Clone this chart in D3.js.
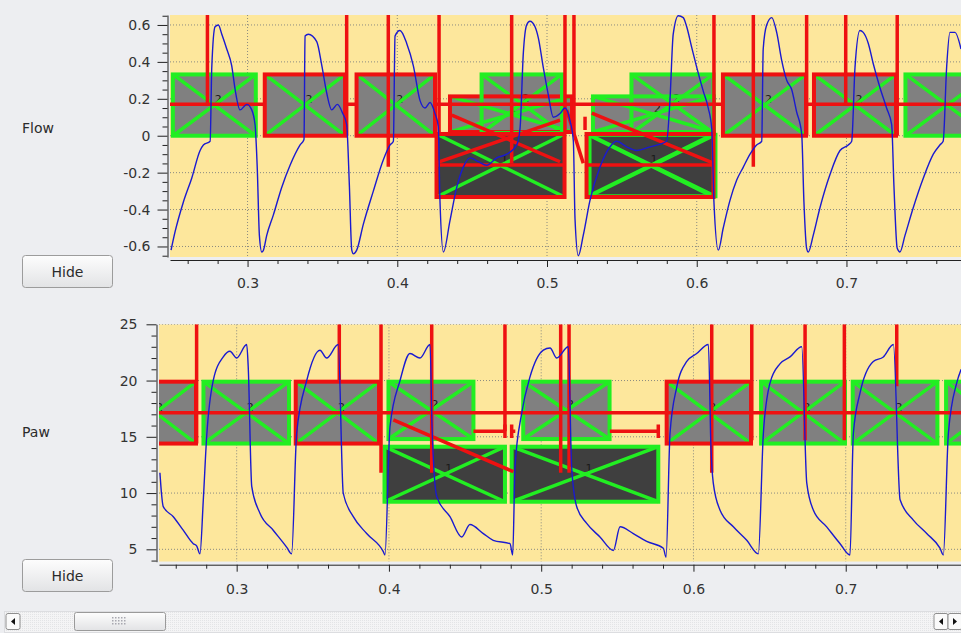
<!DOCTYPE html>
<html>
<head>
<meta charset="utf-8">
<script src="https://cdn.jsdelivr.net/npm/d3@7"></script>
<style>
	body { margin: 0; background: #edeef1; overflow: hidden; }
	svg { display: block; font-family: 'DejaVu Sans', sans-serif; }
</style>
</head>
<body>
<script>
// time axis (s) shared by both plots
const timeTicks = [0.3, 0.4, 0.5, 0.6, 0.7]
const timeTickLabels = ['0.3', '0.4', '0.5', '0.6', '0.7']
const flowTicks = [-0.6, -0.4, -0.2, 0, 0.2, 0.4, 0.6]
const flowTickLabels = ['-0.6', '-0.4', '-0.2', '0', '0.2', '0.4', '0.6']
const pawTicks = [5, 10, 15, 20, 25]
const pawTickLabels = ['5', '10', '15', '20', '25']

// Flow trace
const flowTime = [
	0.2489, 0.2516, 0.2571, 0.2627, 0.2683, 0.2705, 0.2750, 0.2761, 0.2783, 0.2805, 0.2828, 0.2861, 0.2894, 0.2917, 0.2950, 0.2995, 0.3028, 0.3050, 0.3065, 0.3079, 0.3095,
	0.3106, 0.3128, 0.3172, 0.3228, 0.3284, 0.3351, 0.3377, 0.3384, 0.3406, 0.3462, 0.3496, 0.3529, 0.3562, 0.3600, 0.3636, 0.3662, 0.3680, 0.3696, 0.3707,
	0.3729, 0.3773, 0.3840, 0.3907, 0.3952, 0.3974, 0.3985, 0.4018, 0.4063, 0.4107, 0.4152, 0.4185, 0.4219, 0.4252, 0.4274, 0.4285, 0.4308,
	0.4352, 0.4397, 0.4441, 0.4486, 0.4541, 0.4597, 0.4664, 0.4731, 0.4798, 0.4820, 0.4842, 0.4864, 0.4886, 0.4920, 0.4942, 0.4975, 0.5009, 0.5042, 0.5087, 0.5120, 0.5154, 0.5176, 0.5187, 0.5209,
	0.5242, 0.5287, 0.5354, 0.5421, 0.5465, 0.5532, 0.5599, 0.5688, 0.5799, 0.5821, 0.5843, 0.5877, 0.5910, 0.5933, 0.5966, 0.6000, 0.6044, 0.6077, 0.6100, 0.6115, 0.6144,
	0.6177, 0.6222, 0.6267, 0.6311, 0.6356, 0.6400, 0.6434, 0.6444, 0.6467, 0.6501, 0.6534, 0.6567, 0.6601, 0.6634, 0.6667, 0.6701, 0.6716, 0.6734, 0.6745,
	0.6778, 0.6823, 0.6890, 0.6957, 0.7012, 0.7035, 0.7057, 0.7090, 0.7112, 0.7146, 0.7179, 0.7224, 0.7268, 0.7302, 0.7317, 0.7339, 0.7357,
	0.7391, 0.7446, 0.7513, 0.7580, 0.7624, 0.7646, 0.7669, 0.7691, 0.7725, 0.7765
]
const flowValue = [
	-0.62, -0.52, -0.36, -0.23, -0.08, -0.05, -0.03, 0.37, 0.59, 0.60, 0.55, 0.47, 0.38, 0.25, 0.14, 0.17, 0.14, 0.06, -0.18, -0.54, -0.63,
	-0.62, -0.54, -0.43, -0.28, -0.16, -0.05, -0.02, 0.54, 0.55, 0.51, 0.38, 0.23, 0.14, 0.17, 0.12, 0.06, -0.27, -0.62, -0.64,
	-0.62, -0.48, -0.30, -0.13, -0.05, -0.03, 0.54, 0.57, 0.50, 0.38, 0.19, 0.15, 0.18, 0.12, 0.05, -0.35, -0.63,
	-0.46, -0.28, -0.17, -0.12, -0.14, -0.16, -0.12, -0.10, -0.05, 0.04, 0.45, 0.60, 0.62, 0.59, 0.53, 0.37, 0.22, 0.10, 0.12, 0.15, 0.08, -0.03, -0.45, -0.65,
	-0.54, -0.35, -0.17, -0.06, -0.03, -0.06, -0.08, -0.06, -0.03, 0.19, 0.55, 0.65, 0.64, 0.59, 0.48, 0.37, 0.24, 0.15, 0.04, -0.36, -0.62,
	-0.50, -0.35, -0.24, -0.17, -0.10, -0.05, -0.03, 0.47, 0.60, 0.64, 0.56, 0.41, 0.30, 0.25, 0.13, 0.01, -0.36, -0.61, -0.63,
	-0.54, -0.39, -0.21, -0.08, -0.05, -0.03, 0.37, 0.57, 0.56, 0.50, 0.39, 0.26, 0.15, 0.06, -0.27, -0.61, -0.63,
	-0.54, -0.39, -0.23, -0.10, -0.05, -0.03, 0.37, 0.56, 0.56, 0.47
]

// Paw trace
const pawTime = [
	0.2496, 0.2503, 0.2518, 0.2584, 0.2649, 0.2715, 0.2737, 0.2759, 0.2781, 0.2803, 0.2846, 0.2912, 0.2956, 0.3000, 0.3066, 0.3076, 0.3099, 0.3153, 0.3240, 0.3328, 0.3361,
	0.3394, 0.3460, 0.3547, 0.3591, 0.3667, 0.3700, 0.3766, 0.3854, 0.3963, 0.3974,
	0.4007, 0.4073, 0.4138, 0.4204, 0.4270, 0.4283, 0.4314, 0.4401, 0.4478, 0.4532, 0.4620, 0.4685, 0.4795, 0.4813,
	0.4828, 0.4872, 0.4926, 0.5014, 0.5058, 0.5102, 0.5178, 0.5200, 0.5233, 0.5299, 0.5386, 0.5474, 0.5518, 0.5605, 0.5693, 0.5802, 0.5820,
	0.5846, 0.5890, 0.5956, 0.6021, 0.6098, 0.6115, 0.6130, 0.6174, 0.6262, 0.6350, 0.6426,
	0.6459, 0.6503, 0.6569, 0.6634, 0.6711, 0.6744, 0.6787, 0.6875, 0.6963, 0.7028,
	0.7050, 0.7094, 0.7181, 0.7247, 0.7313, 0.7357, 0.7444, 0.7532, 0.7619, 0.7641,
	0.7674, 0.7729, 0.7758
]
const pawValue = [
	11.8, 10.5, 8.8, 7.9, 6.7, 5.5, 5.3, 4.6, 9.4, 15.0, 20.0, 22.1, 22.6, 22.0, 23.2, 21.2, 10.6, 8.2, 6.7, 5.2, 4.6,
	15.3, 20.0, 22.7, 22.0, 23.2, 10.0, 7.9, 6.4, 4.8, 4.5,
	15.9, 20.0, 22.4, 22.0, 23.2, 16.0, 9.7, 7.9, 6.1, 7.2, 6.4, 5.8, 5.5, 4.5,
	12.3, 17.1, 20.3, 22.7, 22.9, 22.0, 23.0, 12.3, 8.8, 7.3, 6.1, 4.9, 7.0, 6.4, 5.7, 5.1, 4.3,
	15.3, 19.4, 21.7, 22.4, 23.2, 14.0, 10.9, 8.5, 7.0, 5.8, 4.6,
	15.3, 19.8, 21.5, 22.1, 23.0, 10.9, 8.5, 7.0, 5.5, 4.5,
	15.3, 18.9, 21.7, 22.1, 23.2, 9.4, 7.6, 6.4, 5.1, 4.5,
	15.3, 19.8, 21.0
]

// annotation boxes: [t start, t end, low, high, edge, tag, show tag]
const flowBoxesBelow = [
	[0.2501, 0.3055, 0, 0.332, 'g', '2', true],
	[0.4352, 0.5167, 0.02, 0.213, 'r', '2', true],
	[0.4563, 0.5100, 0.015, 0.332, 'g', '2', true],
	[0.5307, 0.6115, 0.02, 0.213, 'g', '2', true],
	[0.5564, 0.6112, 0.015, 0.332, 'g', '2', true],
	[0.6783, 0.7331, 0, 0.332, 'r', '2', true],
	[0.7394, 0.7950, 0, 0.332, 'g', '2', false],
	[0.4262, 0.5117, -0.332, 0.0095, 'r', '1', true],
	[0.5284, 0.6125, -0.328, 0.005, 'g', '1', false],
	[0.5264, 0.6112, -0.332, 0.0095, 'r', '1', true]
]
const flowBoxesAbove = [
	[0.3115, 0.3651, 0, 0.332, 'r', '2', true],
	[0.3728, 0.4252, 0, 0.332, 'r', '2', true],
	[0.6175, 0.6730, 0, 0.332, 'r', '2', true]
]
const flowLevel = 0.17
// event markers: [t, lower end]
const flowMarks = [
	[0.2732, 0.17], [0.3662, 0.0], [0.3940, -0.168], [0.4279, 0.0], [0.4764, -0.15], [0.5120, 0.01],
	[0.5180, 0.01], [0.6115, 0.0], [0.6378, -0.168], [0.6734, 0.0], [0.6995, 0.17], [0.7339, 0.0]
]
// links: [t0, v0, t1, v1]
const flowLinks = [
	[0.4364, 0.112, 0.5087, -0.141],
	[0.4255, -0.148, 0.5087, 0.085],
	[0.4262, -0.158, 0.5117, -0.158],
	[0.5264, -0.158, 0.6112, -0.158],
	[0.5131, 0.139, 0.5242, -0.149],
	[0.5299, 0.122, 0.6111, -0.149],
	[0.5254, 0.103, 0.5254, 0.031]
]

const pawBoxesBelow = [
	[0.2200, 0.2733, 14.4, 19.9, 'r', '2', true],
	[0.2782, 0.3344, 14.4, 19.9, 'g', '2', true],
	[0.3388, 0.3935, 14.4, 19.9, 'r', '2', true],
	[0.3997, 0.4555, 14.8, 19.9, 'g', '2', true],
	[0.4882, 0.5449, 14.8, 19.9, 'g', '2', true],
	[0.5824, 0.6378, 14.4, 19.9, 'r', '2', true],
	[0.6444, 0.6995, 14.4, 19.9, 'g', '2', true],
	[0.7046, 0.7602, 14.4, 19.9, 'g', '2', true],
	[0.7659, 0.8200, 14.4, 19.9, 'g', '2', false],
	[0.3971, 0.4762, 9.23, 14.12, 'g', '1', true],
	[0.4806, 0.5769, 9.23, 14.12, 'g', '1', true]
]
const pawBoxesAbove = []
const pawLevel = 17.14
const pawMarks = [
	[0.2737, 14.4], [0.3674, 19.9], [0.3948, 11.8], [0.4281, 11.8], [0.4762, 15.5], [0.5128, 11.8],
	[0.5183, 11.8], [0.6120, 11.8], [0.6383, 14.7], [0.6733, 14.7], [0.6991, 14.7], [0.7335, 19.5]
]
const pawLinks = [
	[0.4029, 16.5, 0.4817, 11.9],
	[0.4555, 15.5, 0.4762, 15.5],
	[0.4762, 14.9, 0.4762, 16.1],
	[0.4806, 14.9, 0.4806, 16.1],
	[0.4806, 15.5, 0.4830, 15.5],
	[0.5451, 15.5, 0.5769, 15.5],
	[0.5769, 14.9, 0.5769, 16.1]
]

const width = 961
const height = 633
const red = '#ee1111'
const green = '#22ee22'

const svg = d3.select('body')
	.append('svg')
	.attr('width', width)
	.attr('height', height)

const defs = svg.append('defs')
const btnGrad = defs.append('linearGradient').attr('id', 'btn').attr('x1', 0).attr('y1', 0).attr('x2', 0).attr('y2', 1)
btnGrad.append('stop').attr('offset', 0).attr('stop-color', '#fdfdfd')
btnGrad.append('stop').attr('offset', 1).attr('stop-color', '#e2e3e5')
const track = defs.append('pattern').attr('id', 'track').attr('width', 2).attr('height', 2).attr('patternUnits', 'userSpaceOnUse')
track.append('rect').attr('width', 2).attr('height', 2).attr('fill', '#f4f4f5')
track.append('rect').attr('width', 1).attr('height', 1).attr('fill', '#e3e4e6')

function drawPlot(p) {
	const x = d3.scaleLinear().domain(p.xDomain).range([p.left, width])
	const y = d3.scaleLinear().domain(p.yDomain).range([p.bottom, p.top])

	defs.append('clipPath').attr('id', 'clip-' + p.name)
		.append('rect')
		.attr('x', p.left).attr('y', p.top)
		.attr('width', width - p.left).attr('height', p.bottom - p.top)

	const g = svg.append('g').attr('clip-path', `url(#clip-${p.name})`)

	g.append('rect')
		.attr('x', p.left).attr('y', p.top)
		.attr('width', width - p.left).attr('height', p.bottom - p.top)
		.attr('fill', '#fde79c')

	// grid
	g.selectAll('.gx').data(timeTicks).join('line')
		.attr('x1', d => x(d)).attr('x2', d => x(d))
		.attr('y1', p.top).attr('y2', p.bottom)
		.attr('stroke', '#8a8a80').attr('stroke-dasharray', '1,2')
	g.selectAll('.gy').data(p.ticks).join('line')
		.attr('x1', p.left).attr('x2', width)
		.attr('y1', d => y(d)).attr('y2', d => y(d))
		.attr('stroke', '#8a8a80').attr('stroke-dasharray', '1,2')

	const drawBoxes = (boxes) => {
		const layer = g.append('g')
		layer.selectAll('rect.fill').data(boxes).join('rect')
			.attr('x', d => x(d[0])).attr('y', d => y(d[3]))
			.attr('width', d => x(d[1]) - x(d[0])).attr('height', d => y(d[2]) - y(d[3]))
			.attr('fill', d => d[5] === '1' ? '#3f3f3f' : '#808080')
		layer.selectAll('text').data(boxes.filter(d => d[6])).join('text')
			.attr('x', d => (x(d[0]) + x(d[1])) / 2 + 4)
			.attr('y', d => (y(d[2]) + y(d[3])) / 2 - 2)
			.attr('font-size', 11)
			.attr('fill', '#1a1a1a')
			.attr('text-anchor', 'middle')
			.text(d => d[5])
		layer.selectAll('path').data(boxes).join('path')
			.attr('d', d => `M${x(d[0])},${y(d[3])}L${x(d[1])},${y(d[2])}M${x(d[0])},${y(d[2])}L${x(d[1])},${y(d[3])}`)
			.attr('stroke', green).attr('stroke-width', 3.5).attr('fill', 'none')
		layer.selectAll('rect.edge').data(boxes).join('rect')
			.attr('x', d => x(d[0])).attr('y', d => y(d[3]))
			.attr('width', d => x(d[1]) - x(d[0])).attr('height', d => y(d[2]) - y(d[3]))
			.attr('fill', 'none')
			.attr('stroke', d => d[4] === 'r' ? red : green)
			.attr('stroke-width', 4)
	}

	drawBoxes(p.boxesBelow)

	g.append('line')
		.attr('x1', p.left).attr('x2', width)
		.attr('y1', y(p.level)).attr('y2', y(p.level))
		.attr('stroke', red).attr('stroke-width', 3.5)

	drawBoxes(p.boxesAbove)

	g.selectAll('.mark').data(p.marks).join('line')
		.attr('x1', d => x(d[0])).attr('x2', d => x(d[0]))
		.attr('y1', p.top).attr('y2', d => y(d[1]))
		.attr('stroke', red).attr('stroke-width', 3.5)

	g.selectAll('.link').data(p.links).join('line')
		.attr('x1', d => x(d[0])).attr('y1', d => y(d[1]))
		.attr('x2', d => x(d[2])).attr('y2', d => y(d[3]))
		.attr('stroke', red).attr('stroke-width', 3.5)

	const line = d3.line()
		.x(d => x(d[0]))
		.y(d => y(d[1]))
		.curve(d3.curveMonotoneX)
	g.append('path')
		.attr('d', line(d3.zip(p.time, p.value)))
		.attr('fill', 'none')
		.attr('stroke', '#1a1ad0')
		.attr('stroke-width', 1.4)

	// axes
	const yAxisX = p.left - 2.5
	const yAxis = svg.append('g')
		.attr('transform', `translate(${yAxisX},0)`)
		.call(d3.axisLeft(y).tickValues(p.ticks).tickSize(10).tickSizeOuter(0).tickPadding(p.yPad)
			.tickFormat((d, i) => p.tickLabels[i]))
	const yMinor = svg.append('g')
		.attr('transform', `translate(${yAxisX},0)`)
		.call(d3.axisLeft(y).tickValues(p.minor).tickSize(5).tickFormat(''))
	yMinor.select('.domain').remove()

	const xAxisY = p.bottom + 3
	const xAxis = svg.append('g')
		.attr('transform', `translate(0,${xAxisY})`)
		.call(d3.axisBottom(x).tickValues(timeTicks).tickSize(7).tickSizeOuter(0).tickPadding(p.xPad)
			.tickFormat((d, i) => timeTickLabels[i]))
	const xMinor = svg.append('g')
		.attr('transform', `translate(0,${xAxisY})`)
		.call(d3.axisBottom(x).tickValues(d3.range(0.26, 0.78, 0.02).filter(v => Math.abs(v * 10 - Math.round(v * 10)) > 0.01)).tickSize(4).tickFormat(''))
	xMinor.select('.domain').remove()

	;[yAxis, yMinor, xAxis, xMinor].forEach(a => {
		a.attr('font-family', 'DejaVu Sans').attr('font-size', 14)
		a.selectAll('line').attr('stroke', '#222')
		a.selectAll('path').attr('stroke', '#222')
		a.selectAll('text').attr('fill', '#333')
	})

	svg.append('text')
		.attr('x', 22).attr('y', p.labelY)
		.attr('font-size', 14).attr('fill', '#2b2b2b')
		.text(p.label)

	const btn = svg.append('g').attr('transform', `translate(22.5,${p.buttonY})`)
	btn.append('rect')
		.attr('width', 90).attr('height', 32).attr('rx', 3)
		.attr('fill', 'url(#btn)').attr('stroke', '#9c9c9c')
	btn.append('text')
		.attr('x', 45).attr('y', 21)
		.attr('text-anchor', 'middle')
		.attr('font-size', 14).attr('fill', '#2b2b2b')
		.text('Hide')
}

drawPlot({
	name: 'flow', label: 'Flow', labelY: 133, buttonY: 255.5,
	left: 170, top: 15, bottom: 257,
	xDomain: [0.2482, 0.7765], yDomain: [-0.657, 0.654],
	ticks: flowTicks, tickLabels: flowTickLabels,
	minor: d3.range(-0.65, 0.66, 0.05).filter(v => Math.abs(v * 5 - Math.round(v * 5)) > 0.01),
	yPad: 7, xPad: 11.5,
	time: flowTime, value: flowValue,
	boxesBelow: flowBoxesBelow, boxesAbove: flowBoxesAbove,
	level: flowLevel, marks: flowMarks, links: flowLinks
})

drawPlot({
	name: 'paw', label: 'Paw', labelY: 437, buttonY: 559.5,
	left: 159, top: 324.3, bottom: 561.7,
	xDomain: [0.249, 0.7757], yDomain: [3.9, 25],
	ticks: pawTicks, tickLabels: pawTickLabels,
	minor: d3.range(4, 25, 1).filter(v => v % 5 !== 0),
	yPad: 9, xPad: 12,
	time: pawTime, value: pawValue,
	boxesBelow: pawBoxesBelow, boxesAbove: pawBoxesAbove,
	level: pawLevel, marks: pawMarks, links: pawLinks
})

// scrollbar
const sb = svg.append('g')
sb.append('rect')
	.attr('x', 4.5).attr('y', 611.5).attr('width', 960).attr('height', 21)
	.attr('fill', 'url(#track)').attr('stroke', '#dcdde0')
const arrow = (cx, dir) => {
	sb.append('rect')
		.attr('x', cx - 7).attr('y', 613.5).attr('width', 14).attr('height', 16).attr('rx', 2)
		.attr('fill', '#fafafa').attr('stroke', '#8e8e8e')
	sb.append('path')
		.attr('d', dir < 0 ? `M${cx - 2},621.5l4,-3.5v7z` : `M${cx + 2},621.5l-4,-3.5v7z`)
		.attr('fill', '#111')
}
arrow(13, -1)
arrow(941, -1)
arrow(955, 1)
sb.append('rect')
	.attr('x', 74.5).attr('y', 612.5).attr('width', 91).attr('height', 18).attr('rx', 2)
	.attr('fill', 'url(#btn)').attr('stroke', '#9a9a9a')
sb.selectAll('.grip').data(d3.range(15)).join('rect')
	.attr('x', d => 112 + (d % 5) * 3).attr('y', d => 617 + Math.floor(d / 5) * 3)
	.attr('width', 1.5).attr('height', 1.5)
	.attr('fill', '#a8a8b0')
</script>
</body>
</html>
